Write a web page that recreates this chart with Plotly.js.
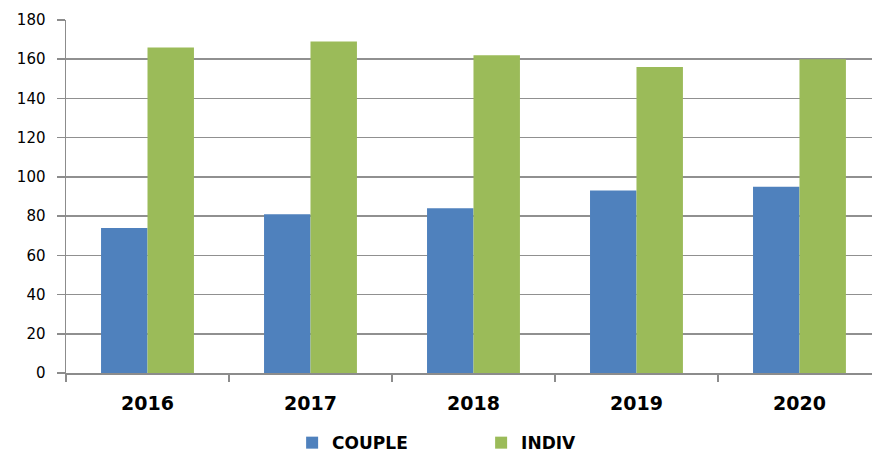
<!DOCTYPE html>
<html><head><meta charset="utf-8">
<script src="https://cdn.plot.ly/plotly-3.0.1.min.js"></script>
<style>html,body{margin:0;padding:0;background:#fff;overflow:hidden;}</style>
</head><body>
<div id="chart" style="width:872px;height:454px;"></div>
<script>
var years = ['2016', '2017', '2018', '2019', '2020'];
var coupleValues = [74, 81, 84, 93, 95];
var indivValues = [166, 169, 162, 156, 160];
var yTicks = [0, 20, 40, 60, 80, 100, 120, 140, 160, 180];

var traces = [
  {type: 'bar', name: 'COUPLE', x: years, y: coupleValues, marker: {color: '#4F81BD'}},
  {type: 'bar', name: 'INDIV', x: years, y: indivValues, marker: {color: '#9BBB59'}}
];
var layout = {
  width: 872, height: 454,
  margin: {l: 66, r: 0, t: 20, b: 81},
  paper_bgcolor: '#fff', plot_bgcolor: '#fff',
  barmode: 'group', bargap: 0.43, bargroupgap: 0,
  font: {family: 'DejaVu Sans, Verdana, sans-serif', color: '#000'},
  xaxis: {
    type: 'category', range: [-0.5, 4.445], automargin: false,
    showline: true, linecolor: '#8c8c8c', linewidth: 1.5,
    ticks: 'outside', tickson: 'boundaries', ticklen: 7, tickcolor: '#8c8c8c', tickwidth: 1.5,
    showgrid: false, zeroline: false,
    tickfont: {size: 19, family: 'DejaVu Sans, Verdana, sans-serif', weight: 'bold', color: '#000'},
    ticklabelstandoff: 13
  },
  yaxis: {
    range: [0, 180], tickvals: yTicks, ticktext: yTicks.map(String), automargin: false,
    showline: true, linecolor: '#8c8c8c', linewidth: 1.5,
    ticks: 'outside', ticklen: 8, tickcolor: '#8c8c8c', tickwidth: 1.5,
    showgrid: true, gridcolor: '#909090', gridwidth: 1.5, zeroline: false,
    tickfont: {size: 15, color: '#000'},
    ticklabelstandoff: 8
  },
  legend: {
    orientation: 'h', xref: 'container', yref: 'container',
    x: 0.335, xanchor: 'left', y: 0.024, yanchor: 'middle',
    entrywidth: 144, entrywidthmode: 'pixels', itemwidth: 30,
    font: {size: 17, weight: 'bold', color: '#000'}
  },
  showlegend: true
};
Plotly.newPlot('chart', traces, layout, {displayModeBar: false, staticPlot: true});
</script>
</body></html>
